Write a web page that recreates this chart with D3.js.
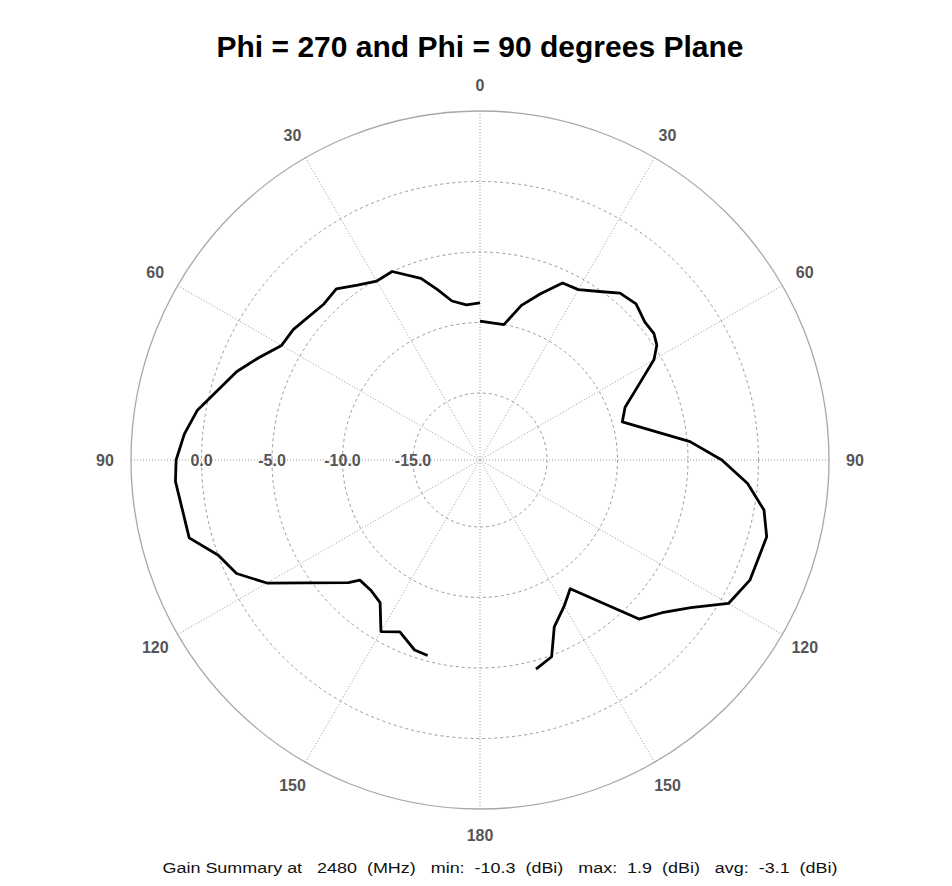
<!DOCTYPE html>
<html>
<head>
<meta charset="utf-8">
<script src="https://cdn.jsdelivr.net/npm/d3@7"></script>
<style>
  body { margin: 0; background: #fff; }
  text { font-family: "Liberation Sans", Arial, sans-serif; }
</style>
</head>
<body>
<div class="chart"></div>
<script>
// theta (deg from top) and gain (dBi), one pair of arrays per half plane
var thetaPhi90 = [0, 10, 15, 20, 25, 30, 36, 40, 45, 50, 54, 57, 60, 65, 70, 75, 85, 90, 95, 100, 105, 114, 120, 125, 130, 135, 145, 150, 156, 160, 165];
var gainPhi90 = [-9.9, -10.0, -8.4, -7.2, -5.9, -5.8, -5.0, -4.3, -4.1, -4.5, -4.5, -4.8, -5.5, -7.4, -8.8, -9.3, -4.8, -2.6, -0.7, 0.7, 1.3, 1.2, 0.6, -1.5, -2.9, -3.8, -8.6, -7.8, -6.8, -4.9, -4.4];

var thetaPhi270 = [0, 5, 10, 14, 18, 25, 30, 35, 40, 45, 55, 60, 65, 70, 80, 85, 90, 94, 105, 110, 115, 120, 133, 135, 140, 145, 150, 155, 161, 165];
var gainPhi270 = [-8.6, -8.7, -8.3, -7.3, -6.2, -5.0, -5.1, -4.6, -3.9, -4.1, -3.6, -3.5, -2.5, -1.4, 0.6, 1.3, 1.8, 1.9, 1.6, 0.0, -0.7, -2.3, -7.0, -7.7, -7.7, -7.4, -5.7, -6.3, -5.5, -5.4];

var ringValues = [0, -5, -10, -15];
var ringLabels = ["0.0", "-5.0", "-10.0", "-15.0"];
var spokeAngles = [0, 30, 60, 90, 120, 150, 180, 210, 240, 270, 300, 330];
var angleLabels = [0, 30, 60, 90, 120, 150, 180];

var titleText = "Phi = 270 and Phi = 90 degrees Plane";
var footerText = "Gain Summary at   2480  (MHz)   min:  -10.3  (dBi)   max:  1.9  (dBi)   avg:  -3.1  (dBi)";

var width = 952,
    height = 886,
    cx = 480,
    cy = 460,
    outerR = 349;

var r = d3.scaleLinear()
    .domain([-19.75, 5])
    .range([0, outerR]);

var rad = function (deg) { return deg * Math.PI / 180; };

var svg = d3.select(".chart").append("svg")
    .attr("width", width)
    .attr("height", height);

svg.append("text")
    .attr("x", cx)
    .attr("y", 57)
    .attr("text-anchor", "middle")
    .style("font-size", "30px")
    .style("font-weight", "bold")
    .attr("fill", "#000")
    .text(titleText);

var g = svg.append("g")
    .attr("transform", "translate(" + cx + "," + cy + ")");

// spokes
g.selectAll("line.spoke")
    .data(spokeAngles)
    .enter().append("line")
    .attr("class", "spoke")
    .attr("x1", 0).attr("y1", 0)
    .attr("x2", function (d) { return outerR * Math.sin(rad(d)); })
    .attr("y2", function (d) { return -outerR * Math.cos(rad(d)); })
    .attr("stroke", "#9a9a9a")
    .attr("stroke-width", 1)
    .attr("stroke-dasharray", "1,2");

// dashed rings
g.selectAll("circle.ring")
    .data(ringValues)
    .enter().append("circle")
    .attr("class", "ring")
    .attr("r", function (d) { return r(d); })
    .attr("fill", "none")
    .attr("stroke", "#9a9a9a")
    .attr("stroke-width", 1)
    .attr("stroke-dasharray", "3,3");

g.append("circle")
    .attr("r", outerR)
    .attr("fill", "none")
    .attr("stroke", "#a8a8a8")
    .attr("stroke-width", 1.3);

// ring labels on the left axis
g.selectAll("text.ringlabel")
    .data(ringValues)
    .enter().append("text")
    .attr("class", "ringlabel")
    .attr("x", function (d) { return -r(d); })
    .attr("y", 0)
    .attr("dy", "0.36em")
    .attr("text-anchor", "middle")
    .style("font-size", "16px")
    .style("font-weight", "bold")
    .attr("fill", "#555")
    .text(function (d, i) { return ringLabels[i]; });

// angle labels, both half planes
var labelR = 375;
var sides = [1, -1];
sides.forEach(function (s) {
    g.selectAll("text.ang" + (s > 0 ? "r" : "l"))
        .data(angleLabels.filter(function (d) { return s > 0 || (d > 0 && d < 180); }))
        .enter().append("text")
        .attr("x", function (d) { return s * labelR * Math.sin(rad(d)); })
        .attr("y", function (d) { return -labelR * Math.cos(rad(d)); })
        .attr("dy", "0.36em")
        .attr("text-anchor", "middle")
        .style("font-size", "16px")
        .style("font-weight", "bold")
        .attr("fill", "#555")
        .text(function (d) { return d; });
});

// gain traces
var line = d3.lineRadial()
    .angle(function (d) { return d[0]; })
    .radius(function (d) { return r(d[1]); });

var rightPts = thetaPhi90.map(function (t, i) { return [rad(t), gainPhi90[i]]; });
var leftPts = thetaPhi270.map(function (t, i) { return [-rad(t), gainPhi270[i]]; });

[rightPts, leftPts].forEach(function (pts) {
    g.append("path")
        .attr("d", line(pts))
        .attr("fill", "none")
        .attr("stroke", "#000")
        .attr("stroke-width", 2.8)
        .attr("stroke-linejoin", "round");
});

svg.append("text")
    .attr("x", cx + 20)
    .attr("y", 873)
    .attr("text-anchor", "middle")
    .attr("xml:space", "preserve")
    .style("white-space", "pre")
    .style("font-size", "14px")
    .attr("fill", "#111")
    .attr("textLength", 675)
    .attr("lengthAdjust", "spacingAndGlyphs")
    .text(footerText);
</script>
</body>
</html>
